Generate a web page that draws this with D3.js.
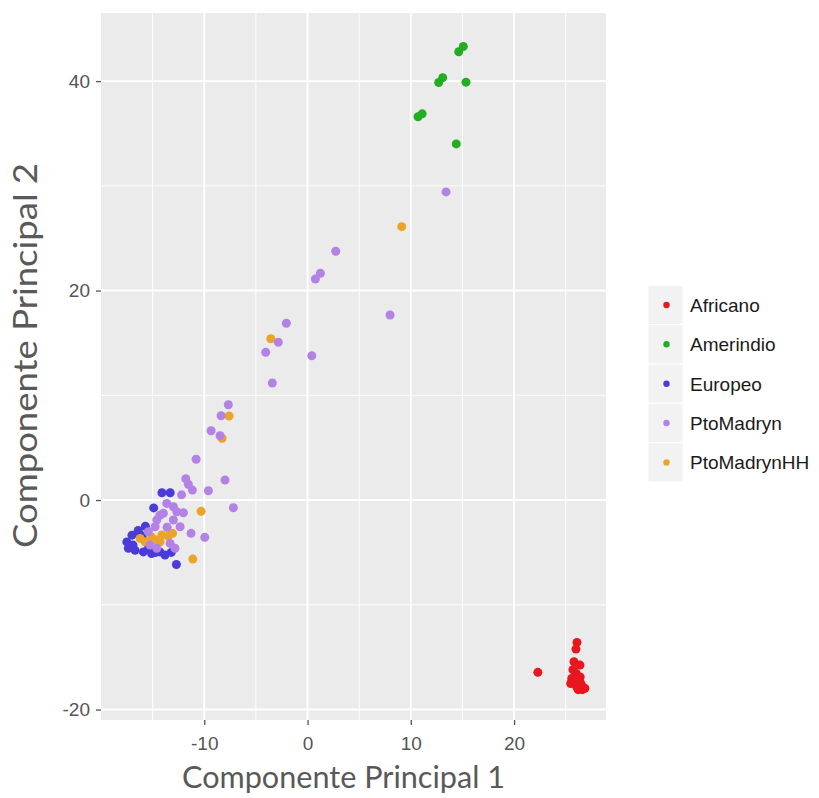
<!DOCTYPE html>
<html>
<head>
<meta charset="utf-8">
<script src="https://cdn.jsdelivr.net/npm/d3@7"></script>
<style>
  body { margin: 0; background: #fff; }
  svg { display: block; }
</style>
</head>
<body>
<svg id="chart" width="819" height="798"></svg>
<script>
// values (PC1, PC2)
var africano = [
  [22.3, -16.45], [26.09, -13.59], [25.99, -14.23], [25.8, -15.44], [26.38, -15.76],
  [26.02, -16.55], [25.58, -17.03], [25.48, -17.51], [26.38, -17.35], [26.06, -17.83],
  [26.86, -17.98], [26.5, -17.6], [25.9, -17.3], [26.6, -18.1], [26.2, -18.1],
  [25.7, -16.2], [26.4, -16.9]
];
var amerindio = [
  [14.64, 42.8], [15.08, 43.3], [12.7, 39.86], [13.09, 40.33], [15.34, 39.9],
  [10.7, 36.6], [11.1, 36.87], [14.4, 34.0]
];
var europeo = [
  [-14.1, 0.7], [-13.3, 0.7], [-14.9, -0.75], [-15.7, -2.5], [-16.4, -2.9],
  [-17.0, -3.35], [-17.5, -4.0], [-17.35, -4.6], [-16.7, -4.8], [-15.9, -4.95],
  [-15.1, -5.1], [-14.3, -4.95], [-13.8, -5.25], [-12.7, -6.15], [-16.0, -3.6],
  [-16.9, -4.3], [-16.2, -3.3], [-15.4, -4.6], [-14.7, -5.0], [-13.2, -5.0]
];
var ptoMadryn = [
  [13.41, 29.42], [2.73, 23.75], [1.24, 21.65], [0.76, 21.1], [7.99, 17.67],
  [-2.05, 16.88], [-2.83, 15.06], [-4.05, 14.1], [0.41, 13.78], [-3.41, 11.17],
  [-7.67, 9.1], [-8.37, 8.05], [-9.34, 6.62], [-8.47, 6.14], [-10.79, 3.89],
  [-11.79, 2.03], [-11.54, 1.5], [-11.15, 0.95], [-7.99, 1.91], [-9.6, 0.89],
  [-7.18, -0.74], [-12.2, 0.5], [-13.63, -0.32], [-12.99, -0.64], [-12.66, -1.12],
  [-12.02, -1.21], [-13.96, -1.27], [-14.6, -1.91], [-14.76, -2.55], [-15.41, -3.03],
  [-11.28, -3.18], [-9.95, -3.56], [-14.6, -4.61], [-13.31, -4.14], [-12.83, -4.61],
  [-12.99, -1.91], [-12.34, -2.55], [-15.25, -4.3], [-14.3, -1.45], [-13.6, -2.6]
];
var ptoMadrynHH = [
  [9.12, 26.1], [-3.56, 15.4], [-7.6, 8.02], [-8.28, 5.9], [-10.31, -1.08],
  [-11.11, -5.64], [-16.21, -3.66], [-15.08, -3.56], [-14.6, -3.82], [-14.11, -3.34],
  [-13.48, -3.44], [-15.73, -3.98], [-13.07, -3.18], [-14.28, -3.98]
];

var groupNames = ["Africano", "Amerindio", "Europeo", "PtoMadryn", "PtoMadrynHH"];
var groupColors = ["#e8161e", "#22ad22", "#4b3bd8", "#b481e4", "#eba42a"];
var xTicks = [-10, 0, 10, 20];
var yTicks = [-20, 0, 20, 40];
var xMinor = [-15, -5, 5, 15, 25];
var yMinor = [-10, 10, 30];

var svg = d3.select("#chart");

var pLeft = 101, pRight = 606, pTop = 13, pBottom = 720;
var x = d3.scaleLinear().domain([-20, 28.9]).range([pLeft, pRight]);
var y = d3.scaleLinear().domain([-21.0, 46.5]).range([pBottom, pTop]);

// panel
svg.append("rect")
    .attr("x", pLeft).attr("y", pTop)
    .attr("width", pRight - pLeft).attr("height", pBottom - pTop)
    .attr("fill", "#ebebeb");

var grid = svg.append("g");
grid.selectAll("line.vmin").data(xMinor).enter().append("line")
    .attr("x1", d => x(d)).attr("x2", d => x(d))
    .attr("y1", pTop).attr("y2", pBottom)
    .attr("stroke", "#fff").attr("stroke-width", 0.9);
grid.selectAll("line.hmin").data(yMinor).enter().append("line")
    .attr("x1", pLeft).attr("x2", pRight)
    .attr("y1", d => y(d)).attr("y2", d => y(d))
    .attr("stroke", "#fff").attr("stroke-width", 0.9);
grid.selectAll("line.vmaj").data(xTicks).enter().append("line")
    .attr("x1", d => x(d)).attr("x2", d => x(d))
    .attr("y1", pTop).attr("y2", pBottom)
    .attr("stroke", "#fff").attr("stroke-width", 1.9);
grid.selectAll("line.hmaj").data(yTicks).enter().append("line")
    .attr("x1", pLeft).attr("x2", pRight)
    .attr("y1", d => y(d)).attr("y2", d => y(d))
    .attr("stroke", "#fff").attr("stroke-width", 1.9);

// points, drawn group by group
var series = [africano, amerindio, europeo, ptoMadrynHH, ptoMadryn];
var seriesColor = [groupColors[0], groupColors[1], groupColors[2], groupColors[4], groupColors[3]];
series.forEach(function(pts, i) {
    svg.append("g").selectAll("circle").data(pts).enter().append("circle")
        .attr("cx", d => x(d[0]))
        .attr("cy", d => y(d[1]))
        .attr("r", 4.5)
        .attr("fill", seriesColor[i]);
});

// axes
var xAxis = svg.append("g")
    .attr("transform", "translate(0," + pBottom + ")")
    .call(d3.axisBottom(x).tickValues(xTicks).tickSize(5).tickPadding(12).tickFormat(d3.format("d")));
var yAxis = svg.append("g")
    .attr("transform", "translate(" + pLeft + ",0)")
    .call(d3.axisLeft(y).tickValues(yTicks).tickSize(5).tickPadding(6).tickFormat(d3.format("d")));

[xAxis, yAxis].forEach(function(a) {
    a.select(".domain").remove();
    a.selectAll(".tick line").attr("stroke", "#555").attr("stroke-width", 1.3);
    a.selectAll(".tick text")
        .attr("fill", "#555")
        .style("font-family", "'Liberation Sans', Arial, sans-serif")
        .style("font-size", "19px");
});
// ggplot style minus sign
svg.selectAll(".tick text").text(d => d < 0 ? "-" + Math.abs(d) : d);

// axis titles
svg.append("text")
    .attr("x", 343.5).attr("y", 788)
    .attr("text-anchor", "middle")
    .attr("textLength", 323).attr("lengthAdjust", "spacingAndGlyphs")
    .attr("fill", "#595959")
    .style("font-family", "Lato, 'Open Sans', sans-serif")
    .style("font-size", "31px")
    .text("Componente Principal 1");

svg.append("text")
    .attr("transform", "translate(37,355.5) rotate(-90)")
    .attr("text-anchor", "middle")
    .attr("textLength", 385).attr("lengthAdjust", "spacingAndGlyphs")
    .attr("fill", "#595959")
    .style("font-family", "Lato, 'Open Sans', sans-serif")
    .style("font-size", "33px")
    .text("Componente Principal 2");

// legend
var keyX = 648, keyW = 35, keyY0 = 285.3, keyH = 39.35;
var legend = svg.append("g");
var rows = legend.selectAll("g").data(groupNames).enter().append("g")
    .attr("transform", (d, i) => "translate(0," + (keyY0 + i * keyH) + ")");
rows.append("rect")
    .attr("x", keyX).attr("y", 0)
    .attr("width", keyW).attr("height", keyH)
    .attr("fill", "#f2f2f2").attr("stroke", "#fff").attr("stroke-width", 1);
rows.append("circle")
    .attr("cx", keyX + keyW / 2 + 1).attr("cy", keyH / 2)
    .attr("r", 3.2)
    .attr("fill", (d, i) => groupColors[i]);
rows.append("text")
    .attr("x", 690).attr("y", keyH / 2).attr("dy", "0.36em")
    .attr("fill", "#1a1a1a")
    .style("font-family", "'Liberation Sans', Arial, sans-serif")
    .style("font-size", "19px")
    .text(d => d);
</script>
</body>
</html>
